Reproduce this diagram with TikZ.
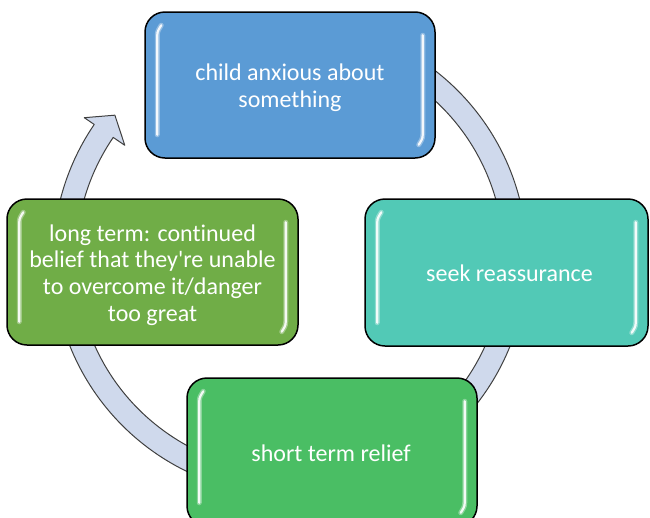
\documentclass[tikz,border=0pt]{standalone}
\usepackage{fontspec}
\setmainfont[Ligatures=NoCommon]{Carlito}
\definecolor{cblue}{HTML}{5B9BD5}
\definecolor{cteal}{HTML}{52C9B6}
\definecolor{cleft}{HTML}{70AD47}
\definecolor{cbottom}{HTML}{4ABE64}
\definecolor{cring}{HTML}{CFD9EC}
\definecolor{cringline}{HTML}{404040}
\tikzset{
  box/.style={draw=black, line width=1.5pt, rounded corners=20pt},
  txt/.style={text=white, align=center, inner sep=0pt, font=\fontsize{24}{26.7}\selectfont},
  ring/.style={fill=cring, draw=cringline, line width=1pt, line join=round},
  hlglow/.style={line width=5pt, line cap=round, draw=white, opacity=0.35},
  hl/.style={line width=2.2pt, line cap=round, draw=white, opacity=0.9}
}
\begin{document}
\begin{tikzpicture}[x=1pt,y=1pt]
\useasboundingbox (0,0) rectangle (650,-517);
\coordinate (C) at (290,-258);
% circular arrow
\path[ring] ([shift={(C)}]90:237pt) arc[start angle=90,end angle=-214.3,radius=237pt]
  -- ([shift={(C)}]145.7:249pt) -- ([shift={(C)}]140.8:226pt)
  -- ([shift={(C)}]145.7:200pt) -- ([shift={(C)}]145.7:214pt)
  arc[start angle=145.7,end angle=450,radius=214pt] -- cycle;
% boxes
\node[box, fill=cblue, minimum width=290pt, minimum height=146pt] (a) at (290,-85) {};
\node[box, fill=cteal, minimum width=283pt, minimum height=147pt] (b) at (506.5,-272.5) {};
\node[box, fill=cbottom, minimum width=290pt, minimum height=148pt] (c) at (332,-452) {};
\node[box, fill=cleft, minimum width=291pt, minimum height=146pt] (d) at (152.5,-272) {};
% glossy highlights
\foreach \n in {a,b,c,d}{
  \draw[hlglow] ([xshift=17pt,yshift=-14pt]\n.north west) to[out=240,in=90] ([xshift=13pt,yshift=-24pt]\n.north west) -- ([xshift=13pt,yshift=24pt]\n.south west);
  \draw[hl] ([xshift=17pt,yshift=-14pt]\n.north west) to[out=240,in=90] ([xshift=13pt,yshift=-24pt]\n.north west) -- ([xshift=13pt,yshift=24pt]\n.south west);
  \draw[hlglow] ([xshift=-13pt,yshift=-24pt]\n.north east) -- ([xshift=-13pt,yshift=24pt]\n.south east) to[out=270,in=60] ([xshift=-17pt,yshift=14pt]\n.south east);
  \draw[hl] ([xshift=-13pt,yshift=-24pt]\n.north east) -- ([xshift=-13pt,yshift=24pt]\n.south east) to[out=270,in=60] ([xshift=-17pt,yshift=14pt]\n.south east);
}
% texts
\node[txt] (ta) at ([yshift=-3pt]a.center) {child anxious about\\something};
\node[txt] (tb) at ([xshift=3pt,yshift=-1pt]b.center) {seek reassurance};
\node[txt] (tc) at ([xshift=-1pt,yshift=-1pt]c.center) {short term relief};
\node[txt] (td) at ([yshift=-3pt]d.center) {long term: continued\\belief that they\textquotesingle re unable\\to overcome it/danger\\too great};
\end{tikzpicture}
\end{document}
